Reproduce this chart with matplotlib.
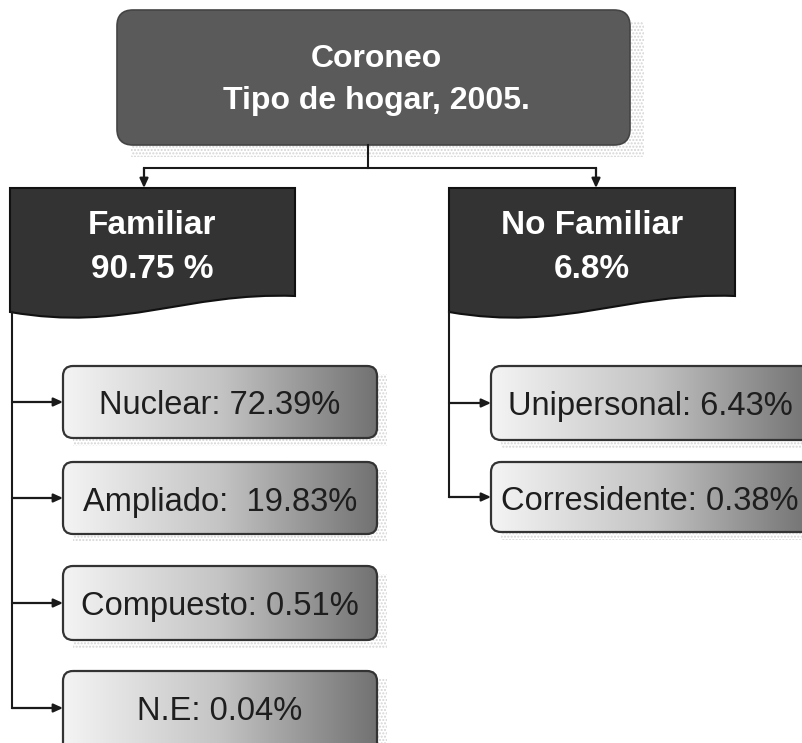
import numpy as np
import matplotlib
matplotlib.use("Agg")
from matplotlib import pyplot as plt
from matplotlib.patches import FancyBboxPatch, PathPatch, Rectangle
from matplotlib.path import Path

plt.rcParams['font.family'] = ['Liberation Sans', 'DejaVu Sans']
plt.rcParams['hatch.linewidth'] = 1.0

# Chart content
header_lines = ["Coroneo", "Tipo de hogar, 2005."]
group_names = ["Familiar", "No Familiar"]
group_pcts = ["90.75 %", "6.8%"]
familiar_items = ["Nuclear: 72.39%", "Ampliado:  19.83%", "Compuesto: 0.51%", "N.E: 0.04%"]
no_familiar_items = ["Unipersonal: 6.43%", "Corresidente: 0.38%"]

fig = plt.figure(figsize=(8.02, 7.43), dpi=100)
ax = fig.add_axes([0, 0, 1, 1])
ax.axis('off')

line_col = '#1a1a1a'
grad = np.linspace(0, 1, 256).reshape(1, -1)
grad_cmap = matplotlib.colors.LinearSegmentedColormap.from_list('g', ['#f4f4f4', '#c4c4c4', '#727272'])


def shadow(x0, y0, x1, y1, dx=8, dy=8):
    r = Rectangle((x0 + dx, y0 + dy), x1 - x0, y1 - y0, facecolor='none',
                  edgecolor='#d4d4d4', hatch='.....', lw=0, zorder=0)
    ax.add_patch(r)


def child_box(x0, y0, x1, y1, text, tx):
    shadow(x0, y0, x1, y1, 10, 8)
    box = FancyBboxPatch((x0, y0), x1 - x0, y1 - y0, boxstyle='round,pad=0,rounding_size=10',
                         facecolor='none', edgecolor='#333333', lw=1.6, zorder=3)
    ax.add_patch(box)
    im = ax.imshow(grad, extent=(x0, x1, y1, y0), cmap=grad_cmap, aspect='auto', zorder=2)
    im.set_clip_path(box)
    ax.text(tx, y0 + 40, text, ha='center', va='center',
            fontsize=23.5, color='#1e1e1e', zorder=4)


def doc_box(x0, y0, x1, y1, name, pct):
    # dark box with a wavy bottom edge
    verts = [(x0, y0), (x1, y0), (x1, y1 - 4),
             (x1 - 110, y1 - 8), (x1 - 170, y1 + 32), (x0, y1 + 12),
             (x0, y0)]
    codes = [Path.MOVETO, Path.LINETO, Path.LINETO,
             Path.CURVE4, Path.CURVE4, Path.CURVE4, Path.CLOSEPOLY]
    ax.add_patch(PathPatch(Path(verts, codes), facecolor='#333333', edgecolor='#111111', lw=1.5, zorder=3))
    cx = (x0 + x1) / 2
    ax.text(cx, y0 + 38, name, ha='center', va='center', fontsize=24, fontweight='bold', color='white', zorder=4)
    ax.text(cx, y0 + 81, pct, ha='center', va='center', fontsize=24, fontweight='bold', color='white', zorder=4)


def arrow(x0, y0, x1, y1):
    ax.annotate('', xy=(x1, y1), xytext=(x0, y0),
                arrowprops=dict(arrowstyle='-|>,head_length=0.55,head_width=0.25', color=line_col, lw=1.6,
                                shrinkA=0, shrinkB=0), zorder=5)


# header box
shadow(117, 10, 630, 145, 14, 12)
top = FancyBboxPatch((117, 10), 513, 135, boxstyle='round,pad=0,rounding_size=16',
                     facecolor='#5a5a5a', edgecolor='#444444', lw=1.2, zorder=3)
ax.add_patch(top)
ax.text(376, 59, header_lines[0], ha='center', va='center', fontsize=23, fontweight='bold', color='white', zorder=4)
ax.text(376, 101, header_lines[1], ha='center', va='center', fontsize=23, fontweight='bold', color='white', zorder=4)

# connectors from header
ax.plot([368, 368], [145, 168], color=line_col, lw=1.5, zorder=5)
ax.plot([144, 596], [168, 168], color=line_col, lw=1.5, zorder=5)
arrow(144, 168, 144, 188)
arrow(596, 168, 596, 188)

# group boxes
doc_box(10, 188, 295, 300, group_names[0], group_pcts[0])
doc_box(449, 188, 735, 300, group_names[1], group_pcts[1])

# familiar children
fam_y = [(366, 438), (462, 534), (566, 640), (671, 770)]
ax.plot([12, 12], [312, 708], color=line_col, lw=1.5, zorder=5)
for (y0, y1), lab in zip(fam_y, familiar_items):
    ym = min((y0 + y1) / 2, 708)
    arrow(12, ym, 63, ym)
    child_box(63, y0, 377, y1, lab, 220)

# no familiar children
nf_y = [(366, 440), (462, 532)]
ax.plot([449, 449], [312, 497], color=line_col, lw=1.5, zorder=5)
for (y0, y1), lab in zip(nf_y, no_familiar_items):
    ym = (y0 + y1) / 2
    arrow(449, ym, 491, ym)
    child_box(491, y0, 812, y1, lab, 650)

ax.set_xlim(0, 802)
ax.set_ylim(743, 0)
fig.savefig('out.png', dpi=100, facecolor='white')
